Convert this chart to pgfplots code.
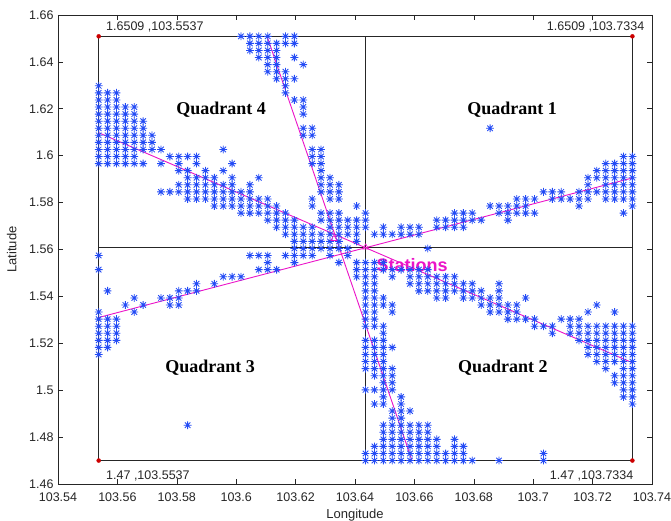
\documentclass[border=0pt]{standalone}
\usepackage{fontspec}
\setmainfont{Liberation Sans}
\newfontfamily\timesfont{Liberation Serif}
\usepackage{pgfplots}
\pgfplotsset{compat=1.18}
\definecolor{ptblue}{RGB}{35,75,245}
\definecolor{lnmag}{RGB}{235,20,200}
\definecolor{axgray}{RGB}{38,38,38}
\definecolor{dotred}{RGB}{205,0,0}
\pgfdeclareplotmark{mstar}{%
  \pgfpathmoveto{\pgfqpoint{0pt}{\pgfplotmarksize}}\pgfpathlineto{\pgfqpoint{0pt}{-\pgfplotmarksize}}%
  \pgfpathmoveto{\pgfqpoint{\pgfplotmarksize}{0pt}}\pgfpathlineto{\pgfqpoint{-\pgfplotmarksize}{0pt}}%
  \pgfpathmoveto{\pgfqpoint{.707\pgfplotmarksize}{.707\pgfplotmarksize}}\pgfpathlineto{\pgfqpoint{-.707\pgfplotmarksize}{-.707\pgfplotmarksize}}%
  \pgfpathmoveto{\pgfqpoint{-.707\pgfplotmarksize}{.707\pgfplotmarksize}}\pgfpathlineto{\pgfqpoint{.707\pgfplotmarksize}{-.707\pgfplotmarksize}}%
  \pgfusepathqstroke}
\begin{document}
\begin{tikzpicture}
\path[use as bounding box] (-58pt,-37pt) rectangle (613pt,484pt);
% x axis values are longitude minus 103 (kept small for precision); labels show full longitude
\begin{axis}[
  at={(0pt,0pt)}, anchor=south west,
  scale only axis, width=594pt, height=469pt,
  xmin=0.54, xmax=0.74, ymin=1.46, ymax=1.66,
  xtick={0.54,0.56,0.58,0.60,0.62,0.64,0.66,0.68,0.70,0.72,0.74},
  xticklabels={103.54,103.56,103.58,103.6,103.62,103.64,103.66,103.68,103.7,103.72,103.74},
  ytick={1.46,1.48,1.50,1.52,1.54,1.56,1.58,1.60,1.62,1.64,1.66},
  yticklabels={1.46,1.48,1.5,1.52,1.54,1.56,1.58,1.6,1.62,1.64,1.66},
  tick align=inside, tick pos=both, major tick length=5pt,
  axis line style={axgray, line width=0.6pt},
  tick style={axgray, line width=0.6pt},
  ticklabel style={font=\fontsize{12.5}{14}\selectfont, text=axgray},
  xticklabel style={yshift=-5pt},
  yticklabel style={xshift=-1pt},
  xlabel={Longitude}, ylabel={Latitude},
  xlabel style={at={(axis description cs:0.5,-0.067)}, anchor=center, font=\fontsize{13}{15}\selectfont, text=axgray},
  ylabel style={at={(axis description cs:-0.078,0.5)}, anchor=center, font=\fontsize{13}{15}\selectfont, text=axgray},
  clip=false,
]
% measurement grid points (grid index i,j: 0.002995 deg lon, 0.003015 deg lat steps from the lower-left corner)
\addplot[only marks, mark=mstar, mark size=3.9pt, mark options={ptblue, line width=0.85pt},
  x filter/.expression={0.5537+0.002995*x}, y filter/.expression={1.47+0.003015*y}] coordinates {
(16,60)(17,60)(18,60)(19,60)(21,60)(22,60)
(17,59)(18,59)(19,59)(20,59)(21,59)(22,59)
(17,58)(18,58)(19,58)(20,58)
(18,57)(19,57)(20,57)(22,57)
(19,56)(20,56)(23,56)
(19,55)(20,55)(21,55)
(20,54)(21,54)(22,54)
(0,53)(21,53)
(0,52)(1,52)(2,52)(21,52)
(0,51)(1,51)(2,51)(22,51)(23,51)
(0,50)(1,50)(2,50)(3,50)(4,50)(23,50)
(0,49)(1,49)(2,49)(3,49)(4,49)(23,49)
(0,48)(1,48)(2,48)(3,48)(4,48)(5,48)
(0,47)(1,47)(2,47)(3,47)(4,47)(5,47)(23,47)(24,47)(44,47)
(0,46)(1,46)(2,46)(3,46)(4,46)(5,46)(6,46)(23,46)(24,46)
(0,45)(1,45)(2,45)(3,45)(4,45)(5,45)(6,45)
(0,44)(1,44)(2,44)(3,44)(4,44)(5,44)(6,44)(7,44)(14,44)(24,44)(25,44)
(0,43)(1,43)(2,43)(3,43)(4,43)(8,43)(9,43)(10,43)(11,43)(24,43)(25,43)(59,43)(60,43)
(0,42)(1,42)(2,42)(3,42)(4,42)(5,42)(7,42)(9,42)(11,42)(15,42)(24,42)(25,42)(57,42)(58,42)(59,42)(60,42)
(9,41)(10,41)(12,41)(14,41)(25,41)(56,41)(57,41)(58,41)(59,41)(60,41)
(10,40)(11,40)(12,40)(13,40)(15,40)(18,40)(25,40)(26,40)(55,40)(56,40)(57,40)(58,40)(59,40)(60,40)
(9,39)(10,39)(11,39)(12,39)(13,39)(14,39)(15,39)(17,39)(25,39)(26,39)(27,39)(55,39)(57,39)(58,39)(59,39)(60,39)
(7,38)(8,38)(9,38)(10,38)(11,38)(12,38)(13,38)(14,38)(15,38)(16,38)(17,38)(25,38)(26,38)(27,38)(50,38)(51,38)(52,38)(54,38)(55,38)(56,38)(57,38)(58,38)(59,38)(60,38)
(10,37)(11,37)(12,37)(13,37)(14,37)(15,37)(16,37)(17,37)(18,37)(19,37)(24,37)(26,37)(27,37)(47,37)(48,37)(49,37)(51,37)(52,37)(53,37)(54,37)(55,37)(57,37)(58,37)(59,37)(60,37)
(13,36)(14,36)(15,36)(16,36)(17,36)(18,36)(19,36)(20,36)(24,36)(29,36)(44,36)(45,36)(46,36)(47,36)(48,36)(54,36)(60,36)
(16,35)(17,35)(18,35)(19,35)(20,35)(21,35)(25,35)(26,35)(27,35)(30,35)(40,35)(41,35)(42,35)(45,35)(46,35)(47,35)(48,35)(49,35)(59,35)
(19,34)(20,34)(21,34)(22,34)(25,34)(26,34)(27,34)(28,34)(29,34)(30,34)(38,34)(39,34)(40,34)(41,34)(42,34)(43,34)(46,34)
(20,33)(21,33)(22,33)(23,33)(24,33)(26,33)(27,33)(28,33)(29,33)(30,33)(32,33)(34,33)(35,33)(36,33)(38,33)(39,33)(40,33)(41,33)
(21,32)(22,32)(23,32)(24,32)(25,32)(26,32)(27,32)(28,32)(29,32)(31,32)(32,32)(33,32)(34,32)(35,32)(36,32)
(22,31)(23,31)(24,31)(25,31)(26,31)(27,31)(29,31)
(22,30)(23,30)(24,30)(25,30)(26,30)(27,30)(28,30)(37,30)
(0,29)(17,29)(18,29)(19,29)(21,29)(22,29)(23,29)(24,29)(26,29)(28,29)
(19,28)(22,28)(27,28)(29,28)(30,28)(31,28)(32,28)
(0,27)(18,27)(19,27)(20,27)(29,27)(30,27)(31,27)(32,27)(33,27)(34,27)(35,27)(36,27)(37,27)
(14,26)(15,26)(16,26)(29,26)(30,26)(31,26)(33,26)(35,26)(36,26)(37,26)(38,26)(39,26)(40,26)
(11,25)(13,25)(30,25)(31,25)(35,25)(36,25)(37,25)(38,25)(39,25)(40,25)(41,25)(42,25)(45,25)
(1,24)(9,24)(10,24)(11,24)(30,24)(31,24)(36,24)(37,24)(38,24)(39,24)(40,24)(41,24)(42,24)(43,24)(45,24)
(4,23)(7,23)(8,23)(9,23)(30,23)(31,23)(32,23)(38,23)(39,23)(41,23)(42,23)(43,23)(44,23)(45,23)(48,23)
(3,22)(5,22)(8,22)(9,22)(30,22)(31,22)(32,22)(33,22)(43,22)(44,22)(45,22)(46,22)(47,22)(56,22)
(0,21)(4,21)(30,21)(31,21)(33,21)(44,21)(45,21)(46,21)(47,21)(55,21)(58,21)
(0,20)(1,20)(2,20)(30,20)(31,20)(46,20)(47,20)(48,20)(49,20)(52,20)(53,20)(54,20)
(0,19)(1,19)(2,19)(30,19)(31,19)(32,19)(49,19)(50,19)(51,19)(53,19)(54,19)(55,19)(56,19)(57,19)(58,19)(59,19)(60,19)
(0,18)(1,18)(2,18)(32,18)(51,18)(53,18)(54,18)(55,18)(56,18)(57,18)(58,18)(59,18)(60,18)
(0,17)(1,17)(2,17)(30,17)(31,17)(32,17)(54,17)(55,17)(56,17)(57,17)(58,17)(59,17)(60,17)
(0,16)(1,16)(30,16)(31,16)(32,16)(33,16)(55,16)(56,16)(57,16)(58,16)(59,16)(60,16)
(0,15)(30,15)(31,15)(32,15)(55,15)(56,15)(57,15)(58,15)(59,15)(60,15)
(30,14)(31,14)(32,14)(56,14)(57,14)(58,14)(59,14)(60,14)
(30,13)(31,13)(32,13)(33,13)(57,13)(59,13)(60,13)
(31,12)(32,12)(33,12)(58,12)(59,12)(60,12)
(32,11)(33,11)(58,11)(59,11)(60,11)
(30,10)(31,10)(32,10)(33,10)(59,10)(60,10)
(32,9)(34,9)(59,9)(60,9)
(31,8)(32,8)(34,8)(60,8)
(33,7)(34,7)(35,7)
(33,6)(34,6)
(10,5)(32,5)(33,5)(34,5)(35,5)(36,5)(37,5)
(32,4)(33,4)(34,4)(35,4)(36,4)(37,4)
(32,3)(33,3)(34,3)(35,3)(36,3)(37,3)(38,3)(40,3)
(31,2)(32,2)(33,2)(34,2)(35,2)(36,2)(37,2)(38,2)(40,2)(41,2)
(30,1)(31,1)(32,1)(33,1)(34,1)(35,1)(36,1)(37,1)(38,1)(39,1)(40,1)(41,1)(50,1)
(30,0)(31,0)(32,0)(33,0)(34,0)(35,0)(36,0)(37,0)(38,0)(39,0)(40,0)(41,0)(42,0)(45,0)(50,0)
};
% quadrant frame
\addplot[axgray, line width=1.1pt] coordinates {(0.5537,1.47) (0.7334,1.47) (0.7334,1.6509) (0.5537,1.6509) (0.5537,1.47)};
\addplot[axgray, line width=1.1pt] coordinates {(0.6436,1.47) (0.6436,1.6509)};
\addplot[axgray, line width=1.1pt] coordinates {(0.5537,1.5609) (0.7334,1.5609)};
% fitted lines
\addplot[lnmag, line width=0.9pt] coordinates {(0.6104,1.6509) (0.6592,1.47)};
\addplot[lnmag, line width=0.9pt] coordinates {(0.5537,1.6098) (0.7334,1.5117)};
\addplot[lnmag, line width=0.9pt] coordinates {(0.5537,1.5310) (0.7334,1.5905)};
\addplot[only marks, mark=triangle, mark size=3.5pt, mark options={lnmag, line width=0.6pt}] coordinates {(0.6436,1.5609) (0.6329,1.5646)};
% corner points
\addplot[only marks, mark=*, mark size=2pt, dotred] coordinates {(0.5537,1.47) (0.7334,1.47) (0.7334,1.6509) (0.5537,1.6509)};
% labels
\node[anchor=base west, font=\fontsize{12.5}{14}\selectfont, text=axgray, xshift=4pt, yshift=6pt] at (axis cs:0.5537,1.6509) {1.6509 ,103.5537};
\node[anchor=base west, font=\fontsize{12.5}{14}\selectfont, text=axgray, xshift=-89pt, yshift=6pt] at (axis cs:0.7334,1.6509) {1.6509 ,103.7334};
\node[anchor=base west, font=\fontsize{12.5}{14}\selectfont, text=axgray, xshift=4pt, yshift=-19pt] at (axis cs:0.5537,1.47) {1.47 ,103.5537};
\node[anchor=base west, font=\fontsize{12.5}{14}\selectfont, text=axgray, xshift=-86pt, yshift=-19pt] at (axis cs:0.7334,1.47) {1.47 ,103.7334};
\node[font=\timesfont\bfseries\fontsize{18}{20}\selectfont] at (axis cs:0.5949,1.6196) {Quadrant 4};
\node[font=\timesfont\bfseries\fontsize{18}{20}\selectfont] at (axis cs:0.6929,1.6196) {Quadrant 1};
\node[font=\timesfont\bfseries\fontsize{18}{20}\selectfont] at (axis cs:0.5912,1.5095) {Quadrant 3};
\node[font=\timesfont\bfseries\fontsize{18}{20}\selectfont] at (axis cs:0.6898,1.5095) {Quadrant 2};
\node[font=\bfseries\fontsize{18}{20}\selectfont, text=lnmag] at (axis cs:0.6592,1.5534) {Stations};
\end{axis}
\end{tikzpicture}
\end{document}
